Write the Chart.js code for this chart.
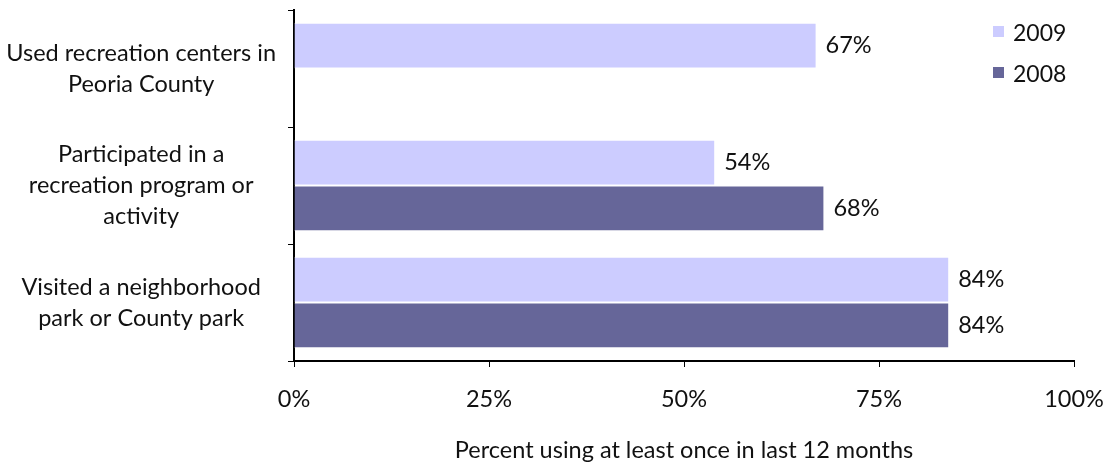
<!DOCTYPE html>
<html>
<head>
<meta charset="utf-8">
<script src="https://cdn.jsdelivr.net/npm/chart.js@4.4.1/dist/chart.umd.min.js"></script>
<style>
  html, body { margin: 0; padding: 0; background: #fff; }
  #wrap { position: relative; width: 1114px; height: 465px; }
  #legend { position: absolute; left: 993px; top: 11px; font-family: Lato, sans-serif; font-size: 23px; color: #111; }
  #legend div { height: 41px; display: flex; align-items: center; }
  #legend span.box { display: inline-block; width: 11px; height: 11px; margin-right: 9px; }
</style>
</head>
<body>
<div id="wrap">
  <canvas id="chart" width="1114" height="465"></canvas>
  <div id="legend"></div>
</div>
<script>
var categories = [
  ["Used recreation centers in", "Peoria County"],
  ["Participated in a", "recreation program or", "activity"],
  ["Visited a neighborhood", "park or County park"]
];
var seriesNames = ["2009", "2008"];
var values2009 = [67, 54, 84];
var values2008 = [null, 68, 84];
var tickValues = [0, 25, 50, 75, 100];
var axisTitle = "Percent using at least once in last 12 months";

var colors = ["#CCCCFF", "#666699"];
var fontName = "Lato, sans-serif";
var fontSize = 23.5;

// legend (html, stacked like the original)
var legendHtml = "";
for (var i = 0; i < seriesNames.length; i++) {
  legendHtml += '<div><span class="box" style="background:' + colors[i] + '"></span>' + seriesNames[i] + '</div>';
}
document.getElementById("legend").innerHTML = legendHtml;

var valueLabels = {
  id: "valueLabels",
  afterDatasetsDraw: function(chart) {
    var ctx = chart.ctx;
    ctx.save();
    ctx.font = fontSize + "px " + fontName;
    ctx.fillStyle = "#111";
    ctx.textBaseline = "middle";
    ctx.textAlign = "left";
    chart.data.datasets.forEach(function(ds, di) {
      var meta = chart.getDatasetMeta(di);
      meta.data.forEach(function(bar, idx) {
        var v = ds.data[idx];
        if (v === null) return;
        ctx.fillText(v + "%", bar.x + 9, bar.y);
      });
    });
    ctx.restore();
  }
};

var ctx = document.getElementById("chart");

var chart = new Chart(ctx, {
  type: "bar",
  data: {
    labels: categories,
    datasets: [
      {
        label: seriesNames[0],
        data: values2009,
        backgroundColor: colors[0],
        borderColor: "#ffffff",
        borderWidth: 1,
        categoryPercentage: 0.78,
        barPercentage: 1.0
      },
      {
        label: seriesNames[1],
        data: values2008,
        backgroundColor: colors[1],
        borderColor: "#ffffff",
        borderWidth: 1,
        categoryPercentage: 0.78,
        barPercentage: 1.0
      }
    ]
  },
  options: {
    indexAxis: "y",
    responsive: false,
    animation: false,
    layout: { padding: { top: 10, right: 40, left: 0, bottom: 0 } },
    plugins: {
      legend: { display: false },
      tooltip: { enabled: false }
    },
    scales: {
      x: {
        min: 0,
        max: 100,
        afterBuildTicks: function(scale) {
          scale.ticks = tickValues.map(function(v) { return { value: v }; });
        },
        ticks: {
          callback: function(v) { return v + "%"; },
          font: { family: fontName, size: fontSize },
          color: "#111",
          padding: 18,
          maxRotation: 0
        },
        grid: {
          drawOnChartArea: false,
          drawTicks: true,
          tickLength: 6,
          color: "#000"
        },
        border: { color: "#000", width: 2 },
        title: {
          display: true,
          text: axisTitle,
          font: { family: fontName, size: fontSize },
          color: "#111",
          padding: { top: 19, bottom: 0 }
        },
        afterFit: function(scale) {
          scale.height = 104;
          scale.paddingRight = 0;
          scale.paddingLeft = 0;
        }
      },
      y: {
        ticks: {
          font: { family: fontName, size: fontSize, lineHeight: 1.32 },
          color: "#111",
          crossAlign: "center",
          padding: 12
        },
        grid: {
          drawOnChartArea: false,
          drawTicks: true,
          tickLength: 6,
          offset: true,
          color: "#000"
        },
        border: { color: "#000", width: 2 },
        afterFit: function(scale) {
          scale.width = 294;
          scale.paddingTop = 0;
          scale.paddingBottom = 0;
        }
      }
    }
  },
  plugins: [valueLabels]
});
</script>
</body>
</html>
